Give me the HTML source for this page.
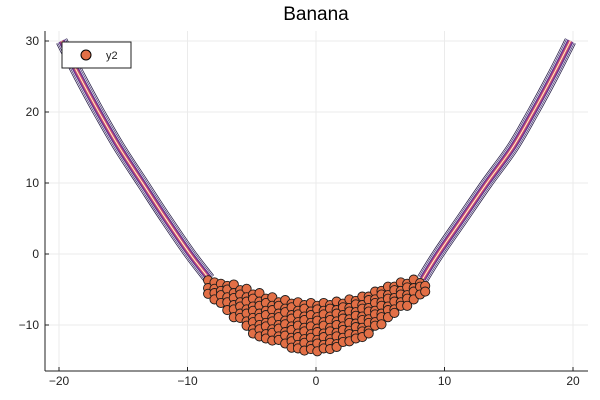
<!DOCTYPE html>
<html><head><meta charset="utf-8"><style>
body{margin:0;background:#fff;}
svg{display:block;font-family:"Liberation Sans","DejaVu Sans",sans-serif;}
</style></head><body>
<svg id="chart" width="600" height="400">
<rect width="600" height="400" fill="#fff"/>
<text x="316" y="20" text-anchor="middle" font-size="19">Banana</text>
<g id="grid"></g>
<g id="contour"></g>
<g id="scatter"></g>
<g id="axes"></g>
<g>
<rect x="62" y="42" width="69" height="26" fill="#fff" stroke="#222" stroke-width="1"/>
<circle cx="86" cy="55" r="5" fill="#e26f46" stroke="#000" stroke-width="1"/>
<text x="106" y="59" font-size="11" fill="#222">y2</text>
</g>
</svg>
<script>
const xTicks=[-20,-10,0,10,20];
const xTickLabels=["−20","−10","0","10","20"];
const yTicks=[30,20,10,0,-10];
const yTickLabels=["30","20","10","0","−10"];
const contourLeftX=[-19.8,-18.4,-16.9,-15.3,-13.5,-11.7,-9.8,-8.3];
const contourLeftY=[30,25,20,15,10,5,0,-3.5];
const contourRightX=[19.8,18.4,16.9,15.3,13.3,11.4,9.5,8.3];
const contourRightY=[30,25,20,15,10,5,0,-3.5];
const scatterColX=[-8.4,-7.9,-7.4,-6.9,-6.4,-5.9,-5.4,-4.9,-4.4,-3.9,-3.4,-2.9,-2.4,-1.9,-1.4,-0.9,-0.4,0.1,0.6,1.1,1.6,2.1,2.6,3.1,3.6,4.1,4.6,5.1,5.6,6.1,6.6,7.1,7.6,8.1,8.5];
const scatterColY=[
[-3.7,-4.8,-5.6],
[-4.0,-4.9,-5.5,-6.4],
[-4.2,-5.2,-5.8,-6.9],
[-4.5,-5.0,-6.1,-6.8,-7.9],
[-4.3,-5.5,-6.2,-7.2,-7.8,-8.9],
[-5.1,-5.7,-6.8,-7.4,-8.4,-9.0],
[-4.9,-6.1,-6.7,-7.8,-8.4,-9.5,-10.1],
[-5.7,-6.3,-7.4,-8.0,-9.0,-9.6,-10.6,-11.2],
[-5.5,-6.7,-7.3,-8.4,-9.0,-10.0,-10.6,-11.6],
[-6.3,-6.9,-8.0,-8.6,-9.7,-10.2,-11.3,-11.9],
[-6.1,-7.3,-7.9,-9.0,-9.5,-10.6,-11.1,-12.2],
[-6.8,-7.3,-8.4,-8.9,-10.0,-10.5,-11.6,-12.1],
[-6.5,-7.7,-8.2,-9.4,-9.9,-11.0,-11.5,-12.6],
[-7.0,-7.5,-8.6,-9.1,-10.2,-10.7,-11.8,-12.3,-13.2],
[-6.8,-8.0,-8.5,-9.6,-10.1,-11.2,-11.7,-12.8,-13.3],
[-7.2,-7.7,-8.8,-9.3,-10.4,-10.9,-12.0,-12.5,-13.6],
[-6.9,-8.1,-8.6,-9.7,-10.2,-11.3,-11.8,-12.9,-13.4],
[-7.3,-7.8,-8.9,-9.4,-10.5,-11.0,-12.1,-12.6,-13.7],
[-6.9,-8.0,-8.5,-9.6,-10.1,-11.2,-11.7,-12.8,-13.3],
[-7.2,-7.7,-8.8,-9.3,-10.4,-10.9,-12.0,-12.5,-13.4],
[-6.7,-7.9,-8.4,-9.5,-10.0,-11.1,-11.6,-12.7,-13.1],
[-7.0,-7.5,-8.6,-9.1,-10.2,-10.7,-11.8,-12.4],
[-6.4,-7.6,-8.1,-9.2,-9.7,-10.8,-11.3,-12.3],
[-6.6,-7.1,-8.2,-8.7,-9.8,-10.3,-11.4,-11.9],
[-6.0,-7.2,-7.7,-8.8,-9.3,-10.4,-10.9,-11.7],
[-6.0,-6.5,-7.6,-8.1,-9.2,-9.7,-10.8,-11.2],
[-5.3,-6.4,-6.9,-8.0,-8.5,-9.6,-10.1],
[-5.2,-5.7,-6.8,-7.3,-8.4,-8.9,-9.9],
[-4.6,-5.8,-6.3,-7.4,-7.9,-8.9],
[-4.6,-5.1,-6.2,-6.7,-7.8,-8.3],
[-4.0,-5.2,-5.7,-6.8,-7.3],
[-4.2,-4.7,-5.8,-6.3,-7.3],
[-3.6,-4.8,-5.3,-6.4],
[-4.1,-4.6,-5.7],
[-4.5,-5.3]
];
const NS="http://www.w3.org/2000/svg";
const X0=45,X1=588,Y0=31,Y1=371;
function sx(v){return 316+v*12.85;}
function sy(v){return 254-v*7.1;}
function mk(tag,attrs,parent){const e=document.createElementNS(NS,tag);for(const k in attrs)e.setAttribute(k,attrs[k]);parent.appendChild(e);return e;}
function smoothPath(px,py){
  let d='M'+px[0].toFixed(1)+','+py[0].toFixed(1);
  for(let i=0;i<px.length-1;i++){
    const i0=Math.max(0,i-1),i3=Math.min(px.length-1,i+2);
    const c1x=px[i]+(px[i+1]-px[i0])/6,c1y=py[i]+(py[i+1]-py[i0])/6;
    const c2x=px[i+1]-(px[i3]-px[i])/6,c2y=py[i+1]-(py[i3]-py[i])/6;
    d+=' C'+c1x.toFixed(1)+','+c1y.toFixed(1)+' '+c2x.toFixed(1)+','+c2y.toFixed(1)+' '+px[i+1].toFixed(1)+','+py[i+1].toFixed(1);
  }
  return d;
}
const grid=document.getElementById('grid');
xTicks.forEach(t=>{const l=mk('line',{x1:sx(t),x2:sx(t),y1:Y0,y2:Y1,stroke:'#ebebeb','stroke-width':1},grid);

});
yTicks.forEach(t=>{const l=mk('line',{x1:X0,x2:X1,y1:sy(t),y2:sy(t),stroke:'#ebebeb','stroke-width':1},grid);

});
const contour=document.getElementById('contour');
const layers=[[12,'#241a45'],[10.5,'#ffffff'],[9.2,'#3c2c6c'],[7.8,'#ffffff'],[6.6,'#5a3288'],[5.2,'#7a3a8e'],[3.8,'#a3408a'],[2.6,'#d0507a'],[1.6,'#f08a55'],[0.7,'#ffffff']];
[[contourLeftX,contourLeftY],[contourRightX,contourRightY]].forEach((br,bi)=>{
  const d=smoothPath(br[0].map(sx),br[1].map(sy));
  layers.forEach(([w,c])=>{const p=mk('path',{d:d,fill:'none',stroke:c,'stroke-width':w,'stroke-linejoin':'round'},contour);
  
  });
});
const sc=document.getElementById('scatter');
scatterColX.forEach((x,i)=>{scatterColY[i].forEach(y=>{
  const c=mk('circle',{cx:sx(x).toFixed(1),cy:sy(y).toFixed(1),r:4.6,fill:'#e26f46',stroke:'#1a1a1a','stroke-width':0.9},sc);
  
  
});});
const ax=document.getElementById('axes');
let a=mk('line',{x1:X0,x2:X0,y1:Y0,y2:Y1,stroke:'#222','stroke-width':1},ax);


a=mk('line',{x1:X0,x2:X1,y1:Y1,y2:Y1,stroke:'#222','stroke-width':1},ax);


xTicks.forEach((t,i)=>{mk('line',{x1:sx(t),x2:sx(t),y1:Y1,y2:Y1-4,stroke:'#222'},ax);
  const tx=mk('text',{x:sx(t),y:Y1+14,'text-anchor':'middle','font-size':12,fill:'#222'},ax);tx.textContent=xTickLabels[i];
  
  });
yTicks.forEach((t,i)=>{mk('line',{x1:X0,x2:X0+4,y1:sy(t),y2:sy(t),stroke:'#222'},ax);
  const tx=mk('text',{x:X0-6,y:sy(t)+4,'text-anchor':'end','font-size':12,fill:'#222'},ax);tx.textContent=yTickLabels[i];
  
  });
</script>
</body></html>
